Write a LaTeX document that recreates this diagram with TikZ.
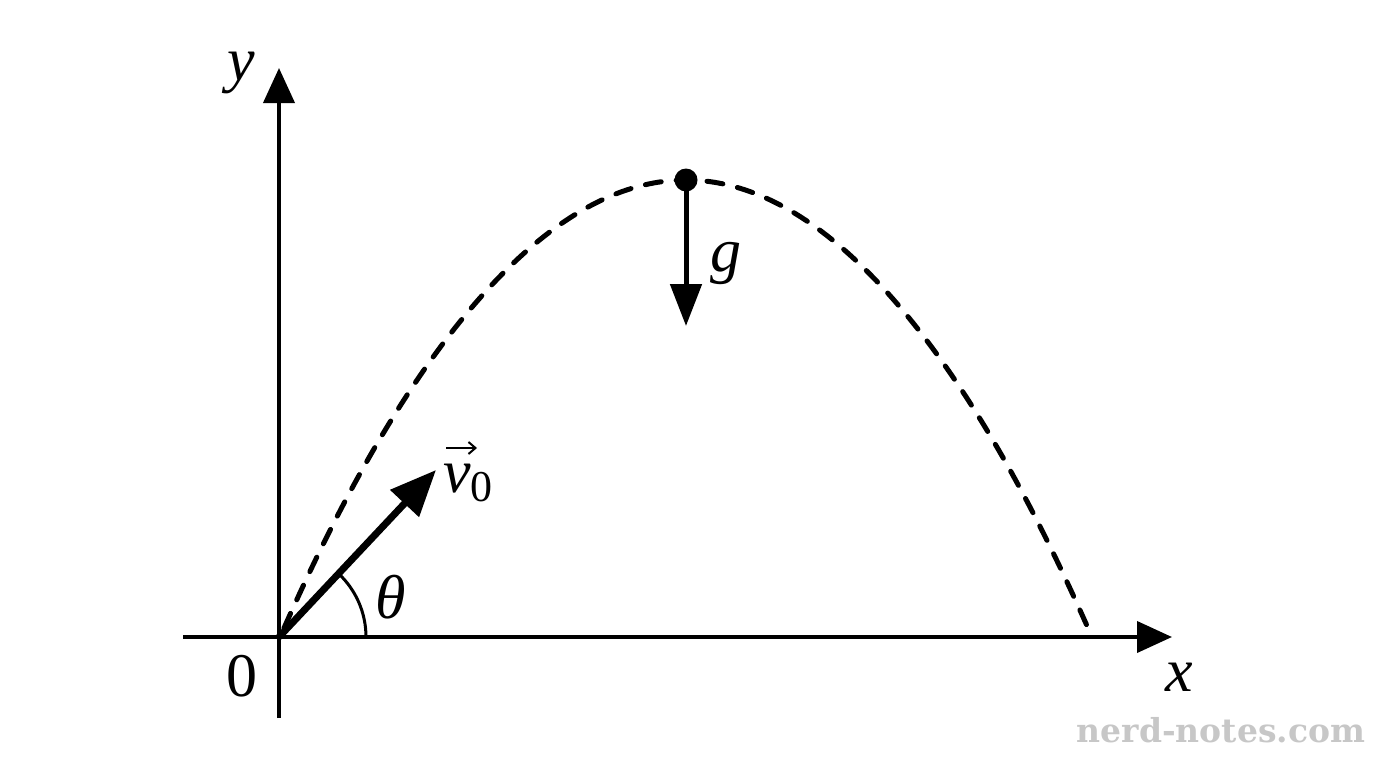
\documentclass[tikz,border=0pt]{standalone}
\usepackage{fontspec}
\setmainfont{Liberation Serif}[Ligatures=TeX]
\newfontfamily\wmfont{DejaVu Serif}
\usetikzlibrary{arrows.meta}
\tikzset{
  axis/.style={line width=4pt, -{Triangle[length=35pt,width=31pt]}},
  vecarrow/.style={line width=7pt, -{Triangle[length=46pt,width=38pt]}},
  garrow/.style={line width=5pt, -{Triangle[length=42pt,width=31pt]}},
  traj/.style={line width=5pt, line cap=round, dash pattern=on 16pt off 15pt},
  overarrow/.style={line width=2pt, -{Straight Barb[length=7pt,width=12pt]}},
  lbl/.style={inner sep=0pt, font=\fontsize{62}{62}\selectfont},
  wm/.style={inner sep=0pt, text=black!22, font=\wmfont\bfseries\fontsize{33}{33}\selectfont}
}
\begin{document}
\begin{tikzpicture}[x=1pt,y=-1pt]
\useasboundingbox (0,0) rectangle (1376,768);
\coordinate (O) at (279,637);
\coordinate (xs) at (183,637);
\coordinate (xe) at (1172,637);
\coordinate (ys) at (279,718);
\coordinate (ye) at (279,68);
\coordinate (top) at (686,180);
\coordinate (vtip) at (436,470);
\coordinate (gtip) at (686,326);
\coordinate (arcstart) at (366,637);
\coordinate (tstart) at (284,628);
\coordinate (tend) at (1088,628);
\coordinate (oa1) at (446,448);
\coordinate (oa2) at (477,448);
% axes
\draw[axis] (xs) -- (xe);
\draw[axis] (ys) -- (ye);
% trajectory
\draw[traj] (tstart) parabola bend (top) (tend);
% angle arc
\draw[line width=3pt] (arcstart) arc[start angle=0, end angle=-46.8, radius=87];
% v0
\draw[vecarrow] (O) -- (vtip);
% g
\draw[garrow] (top) -- (gtip);
\fill (top) circle[radius=11.5];
% labels
\node[lbl] (ylab) at (241,73) {\textit{y}};
\node[lbl] (xlab) at (1179,677) {\textit{x}};
\node[lbl] (zero) at (242,676) {0};
\node[lbl] (th) at (391,597) {\textit{θ}};
\node[lbl] (glab) at (726,264) {\textit{g}};
\node[lbl, anchor=base west] (vlab) at (443,492) {\textit{v}\raisebox{-0.15em}{\fontsize{44}{44}\selectfont 0}};
\draw[overarrow] (oa1) -- (oa2);
\node[wm, anchor=base] (wmark) at (1221,742) {nerd-notes.com};
\end{tikzpicture}
\end{document}
